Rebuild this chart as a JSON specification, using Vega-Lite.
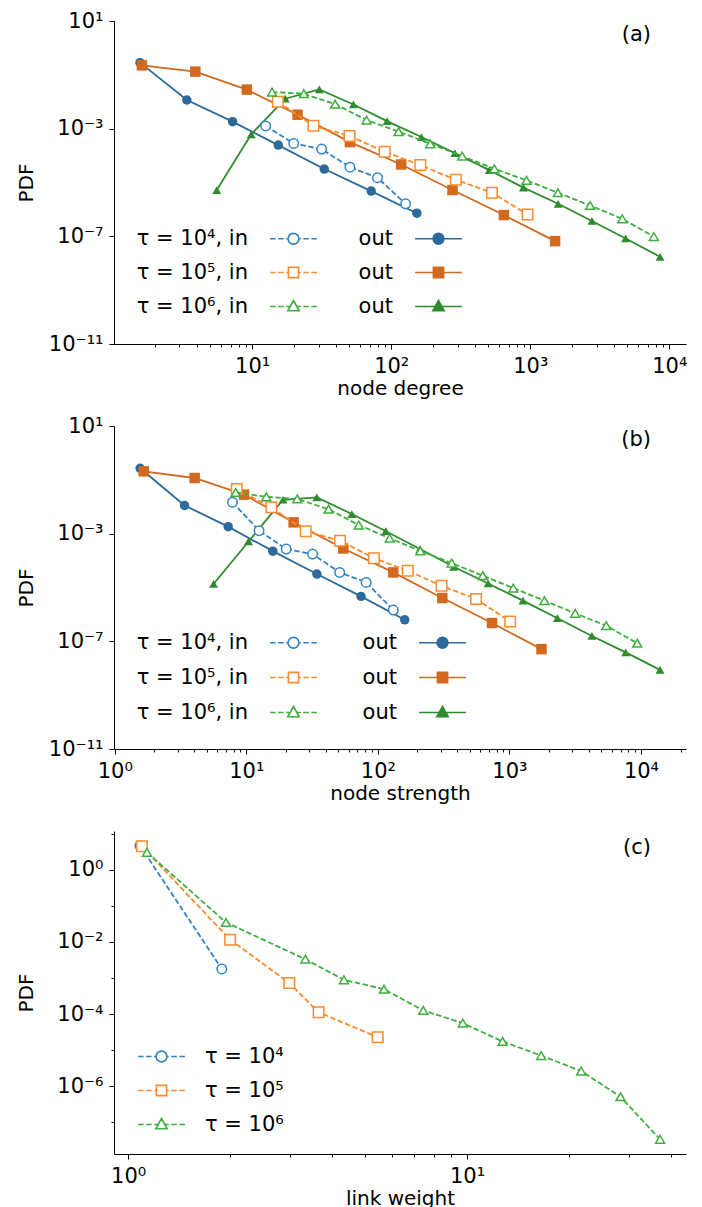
{
  "$schema": "https://vega.github.io/schema/vega-lite/v6.json",
  "padding": {"left": 16, "top": 10, "right": 0, "bottom": 0},
  "bounds": "flush",
  "spacing": 82,
  "resolve": {
    "scale": {"shape": "independent", "stroke": "independent", "fill": "independent"},
    "legend": {"shape": "independent", "stroke": "independent", "fill": "independent"}
  },
  "config": {
    "font": "DejaVu Sans",
    "view": {"stroke": null},
    "axis": {"grid": false, "domainColor": "black", "domainWidth": 1, "tickColor": "black", "tickWidth": 1,
      "labelFont": "DejaVu Sans", "labelFontSize": 21, "labelColor": "black", "labelFlush": false, "labelOverlap": false, "labelBound": false, "labelPadding": 6,
      "titleFont": "DejaVu Sans", "titleFontSize": 20, "titleFontWeight": "normal", "titleColor": "black"},
    "axisX": {"titleY": 50, "titleBaseline": "alphabetic"},
    "axisY": {"titleX": -88, "titleY": 161.5, "titleAngle": 270, "titleAlign": "center", "titleBaseline": "middle"},
    "title": {"font": "DejaVu Sans", "fontSize": 21, "fontWeight": "normal", "color": "black", "anchor": "end", "frame": "group", "offset": -35, "dx": -35},
    "legend": {"title": null, "padding": 0, "labelFont": "DejaVu Sans", "labelFontSize": 21, "labelColor": "black", "labelLimit": 0, "symbolOpacity": 1}
  },
  "datasets": {
    "a": [
      {"series": "in4", "x": 12.5, "y": 0.00126}, {"series": "in4", "x": 19.9, "y": 0.000282}, {"series": "in4", "x": 31.6, "y": 0.000174}, {"series": "in4", "x": 50.5, "y": 0.0000372}, {"series": "in4", "x": 79.6, "y": 0.0000151}, {"series": "in4", "x": 127, "y": 0.00000162},
      {"series": "out4", "x": 1.56, "y": 0.284}, {"series": "out4", "x": 3.39, "y": 0.0116}, {"series": "out4", "x": 7.23, "y": 0.00182}, {"series": "out4", "x": 15.4, "y": 0.000245}, {"series": "out4", "x": 33.0, "y": 0.0000316}, {"series": "out4", "x": 71.8, "y": 0.00000479}, {"series": "out4", "x": 153, "y": 0.000000724},
      {"series": "in5", "x": 15.3, "y": 0.0100}, {"series": "in5", "x": 27.6, "y": 0.00129}, {"series": "in5", "x": 50.1, "y": 0.000537}, {"series": "in5", "x": 89.7, "y": 0.000138}, {"series": "in5", "x": 162, "y": 0.0000447}, {"series": "in5", "x": 292, "y": 0.0000126}, {"series": "in5", "x": 531, "y": 0.00000417}, {"series": "in5", "x": 957, "y": 0.000000646},
      {"series": "out5", "x": 1.61, "y": 0.225}, {"series": "out5", "x": 3.90, "y": 0.1315}, {"series": "out5", "x": 9.16, "y": 0.0282}, {"series": "out5", "x": 21.2, "y": 0.00331}, {"series": "out5", "x": 50.5, "y": 0.000316}, {"series": "out5", "x": 118, "y": 0.0000468}, {"series": "out5", "x": 276, "y": 0.00000525}, {"series": "out5", "x": 647, "y": 0.000000617}, {"series": "out5", "x": 1510, "y": 0.0000000661},
      {"series": "in6", "x": 13.9, "y": 0.0229}, {"series": "in6", "x": 23.5, "y": 0.0200}, {"series": "in6", "x": 39.5, "y": 0.00813}, {"series": "in6", "x": 66.5, "y": 0.00209}, {"series": "in6", "x": 113, "y": 0.000776}, {"series": "in6", "x": 191, "y": 0.000275}, {"series": "in6", "x": 324, "y": 0.0000955}, {"series": "in6", "x": 552, "y": 0.0000324}, {"series": "in6", "x": 940, "y": 0.0000120}, {"series": "in6", "x": 1581, "y": 0.00000417}, {"series": "in6", "x": 2692, "y": 0.00000141}, {"series": "in6", "x": 4592, "y": 0.000000447}, {"series": "in6", "x": 7745, "y": 0.0000000977},
      {"series": "out6", "x": 5.56, "y": 0.00000525}, {"series": "out6", "x": 9.84, "y": 0.000617}, {"series": "out6", "x": 17.3, "y": 0.0130}, {"series": "out6", "x": 30.4, "y": 0.0288}, {"series": "out6", "x": 53.5, "y": 0.00794}, {"series": "out6", "x": 93.3, "y": 0.00191}, {"series": "out6", "x": 165, "y": 0.000490}, {"series": "out6", "x": 287, "y": 0.000123}, {"series": "out6", "x": 508, "y": 0.0000288}, {"series": "out6", "x": 893, "y": 0.00000646}, {"series": "out6", "x": 1589, "y": 0.00000162}, {"series": "out6", "x": 2780, "y": 0.000000372}, {"series": "out6", "x": 4853, "y": 0.0000000832}, {"series": "out6", "x": 8590, "y": 0.0000000174}
    ],
    "b": [
      {"series": "in4", "x": 7.85, "y": 0.0148}, {"series": "in4", "x": 12.5, "y": 0.00129}, {"series": "in4", "x": 20.1, "y": 0.000269}, {"series": "in4", "x": 31.9, "y": 0.000174}, {"series": "in4", "x": 51.3, "y": 0.0000363}, {"series": "in4", "x": 81.5, "y": 0.0000155}, {"series": "in4", "x": 131, "y": 0.00000145},
      {"series": "out4", "x": 1.56, "y": 0.268}, {"series": "out4", "x": 3.39, "y": 0.0112}, {"series": "out4", "x": 7.28, "y": 0.00182}, {"series": "out4", "x": 15.9, "y": 0.000224}, {"series": "out4", "x": 34.4, "y": 0.0000316}, {"series": "out4", "x": 74.5, "y": 0.00000468}, {"series": "out4", "x": 160, "y": 0.000000631},
      {"series": "in5", "x": 8.47, "y": 0.0457}, {"series": "in5", "x": 15.5, "y": 0.00955}, {"series": "in5", "x": 28.3, "y": 0.00123}, {"series": "in5", "x": 51.6, "y": 0.000550}, {"series": "in5", "x": 93.3, "y": 0.000123}, {"series": "in5", "x": 169, "y": 0.0000417}, {"series": "in5", "x": 305, "y": 0.0000115}, {"series": "in5", "x": 558, "y": 0.00000372}, {"series": "in5", "x": 1014, "y": 0.000000550},
      {"series": "out5", "x": 1.66, "y": 0.207}, {"series": "out5", "x": 4.05, "y": 0.117}, {"series": "out5", "x": 9.62, "y": 0.0282}, {"series": "out5", "x": 22.9, "y": 0.00263}, {"series": "out5", "x": 54.6, "y": 0.000282}, {"series": "out5", "x": 131, "y": 0.0000363}, {"series": "out5", "x": 309, "y": 0.00000407}, {"series": "out5", "x": 738, "y": 0.000000479}, {"series": "out5", "x": 1754, "y": 0.0000000513},
      {"series": "in6", "x": 8.30, "y": 0.0339}, {"series": "in6", "x": 14.2, "y": 0.0234}, {"series": "in6", "x": 24.4, "y": 0.0195}, {"series": "in6", "x": 42.2, "y": 0.00813}, {"series": "in6", "x": 71.6, "y": 0.00209}, {"series": "in6", "x": 123, "y": 0.000676}, {"series": "in6", "x": 210, "y": 0.000229}, {"series": "in6", "x": 364, "y": 0.0000813}, {"series": "in6", "x": 627, "y": 0.0000275}, {"series": "in6", "x": 1072, "y": 0.00000955}, {"series": "in6", "x": 1845, "y": 0.00000324}, {"series": "in6", "x": 3162, "y": 0.00000110}, {"series": "in6", "x": 5445, "y": 0.000000380}, {"series": "in6", "x": 9376, "y": 0.0000000851},
      {"series": "out6", "x": 5.64, "y": 0.0000135}, {"series": "out6", "x": 10.4, "y": 0.000513}, {"series": "out6", "x": 19.0, "y": 0.0182}, {"series": "out6", "x": 34.4, "y": 0.0224}, {"series": "out6", "x": 63.4, "y": 0.00537}, {"series": "out6", "x": 115, "y": 0.00123}, {"series": "out6", "x": 209, "y": 0.000269}, {"series": "out6", "x": 377, "y": 0.0000589}, {"series": "out6", "x": 689, "y": 0.0000141}, {"series": "out6", "x": 1268, "y": 0.00000324}, {"series": "out6", "x": 2317, "y": 0.000000724}, {"series": "out6", "x": 4236, "y": 0.000000158}, {"series": "out6", "x": 7656, "y": 0.0000000389}, {"series": "out6", "x": 13964, "y": 0.00000000871}
    ],
    "c": [
      {"series": "in4", "x": 1.084, "y": 4.63}, {"series": "in4", "x": 1.89, "y": 0.00178},
      {"series": "in5", "x": 1.098, "y": 4.46}, {"series": "in5", "x": 2.00, "y": 0.0115}, {"series": "in5", "x": 2.99, "y": 0.000724}, {"series": "in5", "x": 3.65, "y": 0.000112}, {"series": "in5", "x": 5.45, "y": 0.0000229},
      {"series": "in6", "x": 1.137, "y": 3.02}, {"series": "in6", "x": 1.944, "y": 0.0347}, {"series": "in6", "x": 3.334, "y": 0.00331}, {"series": "in6", "x": 4.335, "y": 0.000891}, {"series": "in6", "x": 5.689, "y": 0.000490}, {"series": "in6", "x": 7.43, "y": 0.000126}, {"series": "in6", "x": 9.72, "y": 0.0000562}, {"series": "in6", "x": 12.74, "y": 0.0000174}, {"series": "in6", "x": 16.56, "y": 0.00000708}, {"series": "in6", "x": 21.73, "y": 0.00000263}, {"series": "in6", "x": 28.38, "y": 0.000000513}, {"series": "in6", "x": 37.15, "y": 0.0000000339}
    ]
  },
  "vconcat": [
    {
      "width": 572, "height": 323,
      "data": {"name": "a"},
      "title": "(a)",
      "encoding": {
        "x": {"field": "x", "type": "quantitative", "title": "node degree",
          "scale": {"type": "log", "domain": [1.014, 13200], "nice": false},
          "axis": {"values": [2,3,4,5,6,7,8,9,10,20,30,40,50,60,70,80,90,100,200,300,400,500,600,700,800,900,1000,2000,3000,4000,5000,6000,7000,8000,9000,10000],
            "labelExpr": "datum.value==1?'10⁰':datum.value==10?'10¹':datum.value==100?'10²':datum.value==1000?'10³':datum.value==10000?'10⁴':''",
            "tickSize": {"condition": {"test": "datum.value==1||datum.value==10||datum.value==100||datum.value==1000||datum.value==10000", "value": 5}, "value": 3}}},
        "y": {"field": "y", "type": "quantitative", "title": "PDF",
          "scale": {"type": "log", "domain": [0.00000000001, 10], "nice": false},
          "axis": {"values": [0.00000000001, 0.0000001, 0.001, 10], "tickSize": 5,
            "labelExpr": "datum.value==10?'10¹':datum.value==0.001?'10⁻³':datum.value==0.0000001?'10⁻⁷':'10⁻¹¹'"}}
      },
      "layer": [
        {"transform": [{"filter": "datum.series=='out4'"}], "mark": {"type": "line", "color": "#2b6a9a", "strokeWidth": 1.8, "point": {"shape": "circle", "filled": true, "color": "#2b6a9a", "size": 90, "opacity": 1}}},
        {"transform": [{"filter": "datum.series=='out5'"}], "mark": {"type": "line", "color": "#d2691e", "strokeWidth": 1.8, "point": {"shape": "square", "filled": true, "color": "#d2691e", "size": 110, "opacity": 1}}},
        {"transform": [{"filter": "datum.series=='out6'"}], "mark": {"type": "line", "color": "#2e8b2e", "strokeWidth": 1.8, "point": {"shape": "triangle-up", "filled": true, "color": "#2e8b2e", "size": 80, "opacity": 1}}},
        {"transform": [{"filter": "datum.series=='in4'"}], "mark": {"type": "line", "color": "#3282c3", "strokeWidth": 1.8, "strokeDash": [5.5, 2.5], "point": {"shape": "circle", "filled": false, "fill": "white", "stroke": "#3282c3", "strokeWidth": 1.5, "size": 90, "opacity": 1}}},
        {"transform": [{"filter": "datum.series=='in5'"}], "mark": {"type": "line", "color": "#ff8a2a", "strokeWidth": 1.8, "strokeDash": [5.5, 2.5], "point": {"shape": "square", "filled": false, "fill": "white", "stroke": "#ff8a2a", "strokeWidth": 1.5, "size": 110, "opacity": 1}}},
        {"transform": [{"filter": "datum.series=='in6'"}], "mark": {"type": "line", "color": "#3fae3f", "strokeWidth": 1.8, "strokeDash": [5.5, 2.5], "point": {"shape": "triangle-up", "filled": false, "fill": "white", "stroke": "#3fae3f", "strokeWidth": 1.5, "size": 80, "opacity": 1}}},
        {"mark": {"type": "point", "opacity": 0},
          "encoding": {
            "shape": {"field": "series", "type": "nominal",
              "scale": {"domain": ["in4","in5","in6","out4","out5","out6"], "range": [
                "M-3.9,0L-2.98,0M-2.56,0L-1.64,0M-1.22,0L-0.9,0M0.9,0L1.22,0M1.64,0L2.56,0M2.98,0L3.9,0M0.9,0A0.9,0.9,0,1,1,-0.9,0A0.9,0.9,0,1,1,0.9,0Z",
                "M-3.9,0L-2.98,0M-2.56,0L-1.64,0M-1.22,0L-0.85,0M0.85,0L1.22,0M1.64,0L2.56,0M2.98,0L3.9,0M-0.85,-0.85L0.85,-0.85L0.85,0.85L-0.85,0.85Z",
                "M-3.9,0L-2.98,0M-2.56,0L-1.64,0M-1.22,0L-0.55,0M0.55,0L1.22,0M1.64,0L2.56,0M2.98,0L3.9,0M0,-1L0.95,0.72L-0.95,0.72Z",
                "M-3.9,0L3.9,0M0.9,0A0.9,0.9,0,1,1,-0.9,0A0.9,0.9,0,1,1,0.9,0Z",
                "M-3.9,0L3.9,0M-0.85,-0.85L0.85,-0.85L0.85,0.85L-0.85,0.85Z",
                "M-3.9,0L3.9,0M0,-1L0.95,0.72L-0.95,0.72Z"]},
              "legend": {"orient": "none", "legendX": 169, "legendY": 207, "columns": 2, "columnPadding": 37, "rowPadding": 12, "symbolSize": 144, "symbolStrokeWidth": 1.6, "labelAlign": "right", "labelOffset": -56,
                "labelExpr": "datum.value=='in4'?'τ = 10⁴, in':datum.value=='in5'?'τ = 10⁵, in':datum.value=='in6'?'τ = 10⁶, in':'out'"}},
            "stroke": {"field": "series", "type": "nominal",
              "scale": {"domain": ["in4","in5","in6","out4","out5","out6"], "range": ["#3282c3","#ff8a2a","#3fae3f","#2b6a9a","#d2691e","#2e8b2e"]},
              "legend": {"orient": "none", "legendX": 169, "legendY": 207, "columns": 2, "columnPadding": 37, "rowPadding": 12, "symbolSize": 144, "symbolStrokeWidth": 1.6, "labelAlign": "right", "labelOffset": -56,
                "labelExpr": "datum.value=='in4'?'τ = 10⁴, in':datum.value=='in5'?'τ = 10⁵, in':datum.value=='in6'?'τ = 10⁶, in':'out'"}},
            "fill": {"field": "series", "type": "nominal",
              "scale": {"domain": ["in4","in5","in6","out4","out5","out6"], "range": ["white","white","white","#2b6a9a","#d2691e","#2e8b2e"]},
              "legend": {"orient": "none", "legendX": 169, "legendY": 207, "columns": 2, "columnPadding": 37, "rowPadding": 12, "symbolSize": 144, "symbolStrokeWidth": 1.6, "labelAlign": "right", "labelOffset": -56,
                "labelExpr": "datum.value=='in4'?'τ = 10⁴, in':datum.value=='in5'?'τ = 10⁵, in':datum.value=='in6'?'τ = 10⁶, in':'out'"}}
          }}
      ]
    },
    {
      "width": 572, "height": 323,
      "data": {"name": "b"},
      "title": "(b)",
      "encoding": {
        "x": {"field": "x", "type": "quantitative", "title": "node strength",
          "scale": {"type": "log", "domain": [0.987, 22000], "nice": false},
          "axis": {"values": [1,2,3,4,5,6,7,8,9,10,20,30,40,50,60,70,80,90,100,200,300,400,500,600,700,800,900,1000,2000,3000,4000,5000,6000,7000,8000,9000,10000,20000],
            "labelExpr": "datum.value==1?'10⁰':datum.value==10?'10¹':datum.value==100?'10²':datum.value==1000?'10³':datum.value==10000?'10⁴':''",
            "tickSize": {"condition": {"test": "datum.value==1||datum.value==10||datum.value==100||datum.value==1000||datum.value==10000", "value": 5}, "value": 3}}},
        "y": {"field": "y", "type": "quantitative", "title": "PDF",
          "scale": {"type": "log", "domain": [0.00000000001, 10], "nice": false},
          "axis": {"values": [0.00000000001, 0.0000001, 0.001, 10], "tickSize": 5,
            "labelExpr": "datum.value==10?'10¹':datum.value==0.001?'10⁻³':datum.value==0.0000001?'10⁻⁷':'10⁻¹¹'"}}
      },
      "layer": [
        {"transform": [{"filter": "datum.series=='out4'"}], "mark": {"type": "line", "color": "#2b6a9a", "strokeWidth": 1.8, "point": {"shape": "circle", "filled": true, "color": "#2b6a9a", "size": 90, "opacity": 1}}},
        {"transform": [{"filter": "datum.series=='out5'"}], "mark": {"type": "line", "color": "#d2691e", "strokeWidth": 1.8, "point": {"shape": "square", "filled": true, "color": "#d2691e", "size": 110, "opacity": 1}}},
        {"transform": [{"filter": "datum.series=='out6'"}], "mark": {"type": "line", "color": "#2e8b2e", "strokeWidth": 1.8, "point": {"shape": "triangle-up", "filled": true, "color": "#2e8b2e", "size": 80, "opacity": 1}}},
        {"transform": [{"filter": "datum.series=='in4'"}], "mark": {"type": "line", "color": "#3282c3", "strokeWidth": 1.8, "strokeDash": [5.5, 2.5], "point": {"shape": "circle", "filled": false, "fill": "white", "stroke": "#3282c3", "strokeWidth": 1.5, "size": 90, "opacity": 1}}},
        {"transform": [{"filter": "datum.series=='in5'"}], "mark": {"type": "line", "color": "#ff8a2a", "strokeWidth": 1.8, "strokeDash": [5.5, 2.5], "point": {"shape": "square", "filled": false, "fill": "white", "stroke": "#ff8a2a", "strokeWidth": 1.5, "size": 110, "opacity": 1}}},
        {"transform": [{"filter": "datum.series=='in6'"}], "mark": {"type": "line", "color": "#3fae3f", "strokeWidth": 1.8, "strokeDash": [5.5, 2.5], "point": {"shape": "triangle-up", "filled": false, "fill": "white", "stroke": "#3fae3f", "strokeWidth": 1.5, "size": 80, "opacity": 1}}},
        {"mark": {"type": "point", "opacity": 0},
          "encoding": {
            "shape": {"field": "series", "type": "nominal",
              "scale": {"domain": ["in4","in5","in6","out4","out5","out6"], "range": [
                "M-3.9,0L-2.98,0M-2.56,0L-1.64,0M-1.22,0L-0.9,0M0.9,0L1.22,0M1.64,0L2.56,0M2.98,0L3.9,0M0.9,0A0.9,0.9,0,1,1,-0.9,0A0.9,0.9,0,1,1,0.9,0Z",
                "M-3.9,0L-2.98,0M-2.56,0L-1.64,0M-1.22,0L-0.85,0M0.85,0L1.22,0M1.64,0L2.56,0M2.98,0L3.9,0M-0.85,-0.85L0.85,-0.85L0.85,0.85L-0.85,0.85Z",
                "M-3.9,0L-2.98,0M-2.56,0L-1.64,0M-1.22,0L-0.55,0M0.55,0L1.22,0M1.64,0L2.56,0M2.98,0L3.9,0M0,-1L0.95,0.72L-0.95,0.72Z",
                "M-3.9,0L3.9,0M0.9,0A0.9,0.9,0,1,1,-0.9,0A0.9,0.9,0,1,1,0.9,0Z",
                "M-3.9,0L3.9,0M-0.85,-0.85L0.85,-0.85L0.85,0.85L-0.85,0.85Z",
                "M-3.9,0L3.9,0M0,-1L0.95,0.72L-0.95,0.72Z"]},
              "legend": {"orient": "none", "legendX": 169, "legendY": 206, "columns": 2, "columnPadding": 41, "rowPadding": 13, "symbolSize": 144, "symbolStrokeWidth": 1.6, "labelAlign": "right", "labelOffset": -56,
                "labelExpr": "datum.value=='in4'?'τ = 10⁴, in':datum.value=='in5'?'τ = 10⁵, in':datum.value=='in6'?'τ = 10⁶, in':'out'"}},
            "stroke": {"field": "series", "type": "nominal",
              "scale": {"domain": ["in4","in5","in6","out4","out5","out6"], "range": ["#3282c3","#ff8a2a","#3fae3f","#2b6a9a","#d2691e","#2e8b2e"]},
              "legend": {"orient": "none", "legendX": 169, "legendY": 206, "columns": 2, "columnPadding": 41, "rowPadding": 13, "symbolSize": 144, "symbolStrokeWidth": 1.6, "labelAlign": "right", "labelOffset": -56,
                "labelExpr": "datum.value=='in4'?'τ = 10⁴, in':datum.value=='in5'?'τ = 10⁵, in':datum.value=='in6'?'τ = 10⁶, in':'out'"}},
            "fill": {"field": "series", "type": "nominal",
              "scale": {"domain": ["in4","in5","in6","out4","out5","out6"], "range": ["white","white","white","#2b6a9a","#d2691e","#2e8b2e"]},
              "legend": {"orient": "none", "legendX": 169, "legendY": 206, "columns": 2, "columnPadding": 41, "rowPadding": 13, "symbolSize": 144, "symbolStrokeWidth": 1.6, "labelAlign": "right", "labelOffset": -56,
                "labelExpr": "datum.value=='in4'?'τ = 10⁴, in':datum.value=='in5'?'τ = 10⁵, in':datum.value=='in6'?'τ = 10⁶, in':'out'"}}
          }}
      ]
    },
    {
      "width": 572, "height": 323,
      "data": {"name": "c"},
      "title": "(c)",
      "encoding": {
        "x": {"field": "x", "type": "quantitative", "title": "link weight",
          "scale": {"type": "log", "domain": [0.9085, 44.3], "nice": false},
          "axis": {"values": [1,2,3,4,5,6,7,8,9,10,20,30,40],
            "labelExpr": "datum.value==1?'10⁰':datum.value==10?'10¹':''",
            "tickSize": {"condition": {"test": "datum.value==1||datum.value==10", "value": 5}, "value": 3}}},
        "y": {"field": "y", "type": "quantitative", "title": "PDF",
          "scale": {"type": "log", "domain": [0.0000000133, 11.8], "nice": false},
          "axis": {"values": [10, 1, 0.1, 0.01, 0.001, 0.0001, 0.00001, 0.000001, 0.0000001],
            "labelExpr": "datum.value==1?'10⁰':datum.value==0.01?'10⁻²':datum.value==0.0001?'10⁻⁴':datum.value==0.000001?'10⁻⁶':''",
            "tickSize": {"condition": {"test": "datum.value==1||datum.value==0.01||datum.value==0.0001||datum.value==0.000001", "value": 5}, "value": 3}}}
      },
      "layer": [
        {"transform": [{"filter": "datum.series=='in4'"}], "mark": {"type": "line", "color": "#3282c3", "strokeWidth": 1.8, "strokeDash": [5.5, 2.5], "point": {"shape": "circle", "filled": false, "fill": "white", "stroke": "#3282c3", "strokeWidth": 1.5, "size": 90, "opacity": 1}}},
        {"transform": [{"filter": "datum.series=='in5'"}], "mark": {"type": "line", "color": "#ff8a2a", "strokeWidth": 1.8, "strokeDash": [5.5, 2.5], "point": {"shape": "square", "filled": false, "fill": "white", "stroke": "#ff8a2a", "strokeWidth": 1.5, "size": 110, "opacity": 1}}},
        {"transform": [{"filter": "datum.series=='in6'"}], "mark": {"type": "line", "color": "#3fae3f", "strokeWidth": 1.8, "strokeDash": [5.5, 2.5], "point": {"shape": "triangle-up", "filled": false, "fill": "white", "stroke": "#3fae3f", "strokeWidth": 1.5, "size": 80, "opacity": 1}}},
        {"mark": {"type": "point", "opacity": 0},
          "encoding": {
            "shape": {"field": "series", "type": "nominal",
              "scale": {"domain": ["in4","in5","in6"], "range": [
                "M-3.9,0L-2.98,0M-2.56,0L-1.64,0M-1.22,0L-0.9,0M0.9,0L1.22,0M1.64,0L2.56,0M2.98,0L3.9,0M0.9,0A0.9,0.9,0,1,1,-0.9,0A0.9,0.9,0,1,1,0.9,0Z",
                "M-3.9,0L-2.98,0M-2.56,0L-1.64,0M-1.22,0L-0.85,0M0.85,0L1.22,0M1.64,0L2.56,0M2.98,0L3.9,0M-0.85,-0.85L0.85,-0.85L0.85,0.85L-0.85,0.85Z",
                "M-3.9,0L-2.98,0M-2.56,0L-1.64,0M-1.22,0L-0.55,0M0.55,0L1.22,0M1.64,0L2.56,0M2.98,0L3.9,0M0,-1L0.95,0.72L-0.95,0.72Z"]},
              "legend": {"orient": "none", "legendX": 37, "legendY": 215, "rowPadding": 12, "symbolSize": 144, "symbolStrokeWidth": 1.6, "labelOffset": 33,
                "labelExpr": "datum.value=='in4'?'τ = 10⁴':datum.value=='in5'?'τ = 10⁵':'τ = 10⁶'"}},
            "stroke": {"field": "series", "type": "nominal",
              "scale": {"domain": ["in4","in5","in6"], "range": ["#3282c3","#ff8a2a","#3fae3f"]},
              "legend": {"orient": "none", "legendX": 37, "legendY": 215, "rowPadding": 12, "symbolSize": 144, "symbolStrokeWidth": 1.6, "labelOffset": 33,
                "labelExpr": "datum.value=='in4'?'τ = 10⁴':datum.value=='in5'?'τ = 10⁵':'τ = 10⁶'"}},
            "fill": {"field": "series", "type": "nominal",
              "scale": {"domain": ["in4","in5","in6"], "range": ["white","white","white"]},
              "legend": {"orient": "none", "legendX": 37, "legendY": 215, "rowPadding": 12, "symbolSize": 144, "symbolStrokeWidth": 1.6, "labelOffset": 33,
                "labelExpr": "datum.value=='in4'?'τ = 10⁴':datum.value=='in5'?'τ = 10⁵':'τ = 10⁶'"}}
          }}
      ]
    }
  ]
}
